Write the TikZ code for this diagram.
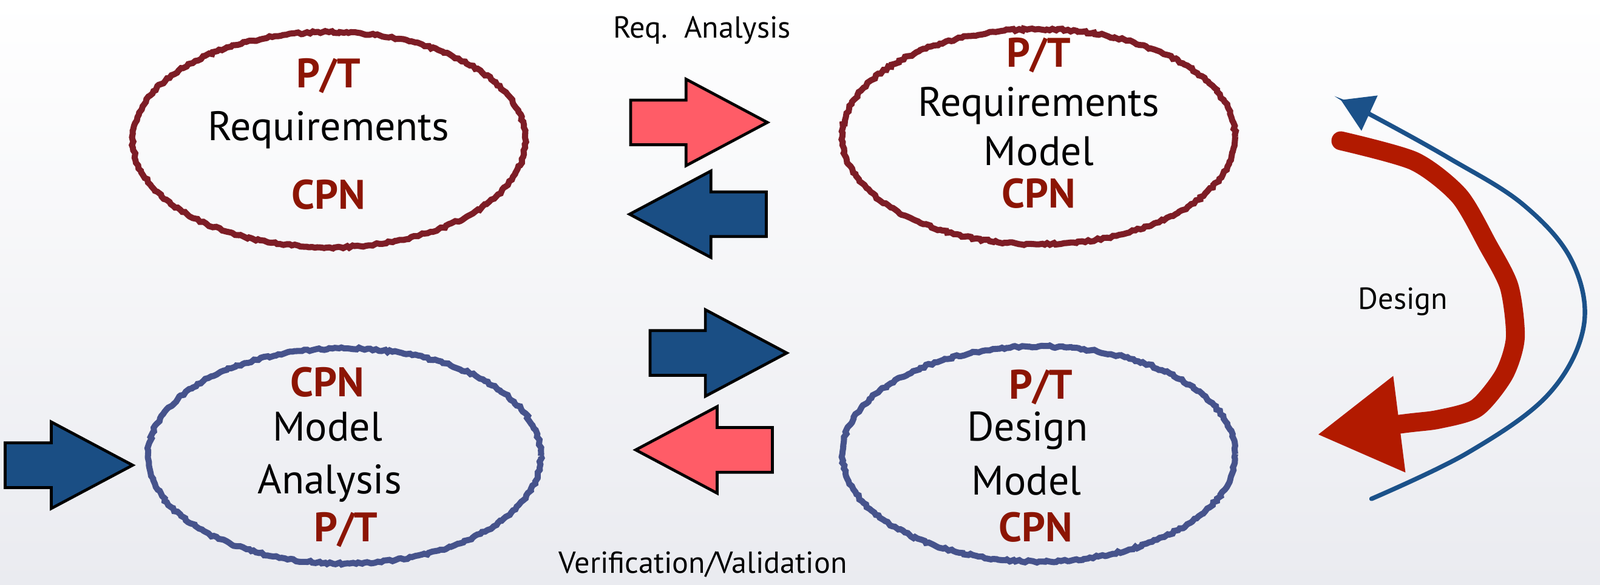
\documentclass[tikz,border=0pt]{standalone}
\usepackage{fontspec}
\setmainfont{PT Sans}
\usetikzlibrary{arrows.meta,shapes.geometric,shapes.arrows,decorations.pathmorphing}

\definecolor{ellred}{HTML}{7D1D26}
\definecolor{ellblue}{HTML}{46538C}
\definecolor{netred}{HTML}{8C1504}
\definecolor{arrred}{HTML}{FF5C67}
\definecolor{arrblue}{HTML}{1A4E84}
\definecolor{curvered}{HTML}{B21A00}
\definecolor{curveblue}{HTML}{1B5189}
\definecolor{bggrey}{HTML}{EAEBF0}

\begin{document}
\begin{tikzpicture}[
  x=0.02cm, y=-0.02cm,
  stage/.style={ellipse, draw, line width=3.4pt, minimum width=7.7cm, minimum height=4.22cm, inner sep=0pt,
    decorate, decoration={random steps, segment length=1.6pt, amplitude=0.6pt}},
  reqstage/.style={stage, draw=ellred},
  desstage/.style={stage, draw=ellblue},
  word/.style={anchor=base, font=\fontsize{23}{27}\selectfont},
  net/.style={anchor=base, font=\fontsize{23}{27}\selectfont\bfseries, text=netred},
  note/.style={anchor=base, font=\fontsize{17}{20}\selectfont},
  fat/.style={single arrow, draw=black, line width=1.6pt, minimum height=2.68cm, minimum width=1.64cm,
    single arrow head extend=0.41cm, single arrow tip angle=56, inner xsep=0pt, inner ysep=0.41cm},
  fwd/.style={fat, fill=arrred},
  bwd/.style={fat, fill=arrblue},
  pointleft/.style={shape border rotate=180},
  designfwd/.style={draw=curvered, line width=10.5pt, line cap=round, line join=round,
    -{Triangle[length=1.62cm, width=1.8cm]}},
  designbwd/.style={draw=curveblue, line width=2.5pt, line cap=round,
    -{Triangle[length=0.62cm, width=0.74cm]}}
]
\useasboundingbox (0,0) rectangle (1568,573);
\shade[top color=white, bottom color=bggrey] (0,0) rectangle (1568,573);

% requirements
\node[reqstage] (reqs) at (322.5,137) {};
\node[net] (reqspt) at (322,86) {P/T};
\node[word] (reqsname) at (322,138) {Requirements};
\node[net] (reqscpn) at (322,205) {CPN};

% requirements model
\node[reqstage] (reqmodel) at (1018,134) {};
\node[net] (rmpt) at (1018,66) {P/T};
\node[word] (rmname) at (1018,114) {Requirements};
\node[word] (rmmodel) at (1018,162) {Model};
\node[net] (rmcpn) at (1018,204) {CPN};

% model analysis
\node[desstage] (analysis) at (337.5,447) {};
\node[net] (ancpn) at (321,389) {CPN};
\node[word] (anmodel) at (321,432) {Model};
\node[word] (anname) at (323,484) {Analysis};
\node[net] (anpt) at (339,531) {P/T};

% design model
\node[desstage] (design) at (1018,445) {};
\node[net] (dept) at (1020,391) {P/T};
\node[word] (dename) at (1007,432) {Design};
\node[word] (demodel) at (1006,485) {Model};
\node[net] (decpn) at (1015,531) {CPN};

% block arrows
\node[fwd, anchor=tip] (reqfwd) at (755,120) {};
\node[bwd, pointleft, anchor=tip] (reqbwd) at (614,210) {};
\node[bwd, anchor=tip] (desfwd) at (774,346) {};
\node[fwd, pointleft, anchor=tip] (desbwd) at (620,441) {};
\node[bwd, anchor=tip, minimum height=2.5cm] (inflow) at (133,456) {};

\node[note] (reqnote) at (688,37) {Req.~~Analysis};
\node[note] (vvnote) at (689,562) {Verification/Validation};
\node[note] (desnote) at (1375,303) {Design};

% design loop
\draw[designfwd] plot[smooth, tension=0.45] coordinates {(1314,138) (1386,158) (1430,192) (1458,240)
  (1479,281) (1485,331) (1474,367) (1447,400) (1410,411) (1378,415) (1291,426)};
\draw[designbwd] plot[smooth, tension=0.6] coordinates {(1344,489) (1438,444) (1517,387) (1552,320)
  (1540,255) (1492,200) (1420,155) (1348,115) (1314,98)};
\end{tikzpicture}
\end{document}
